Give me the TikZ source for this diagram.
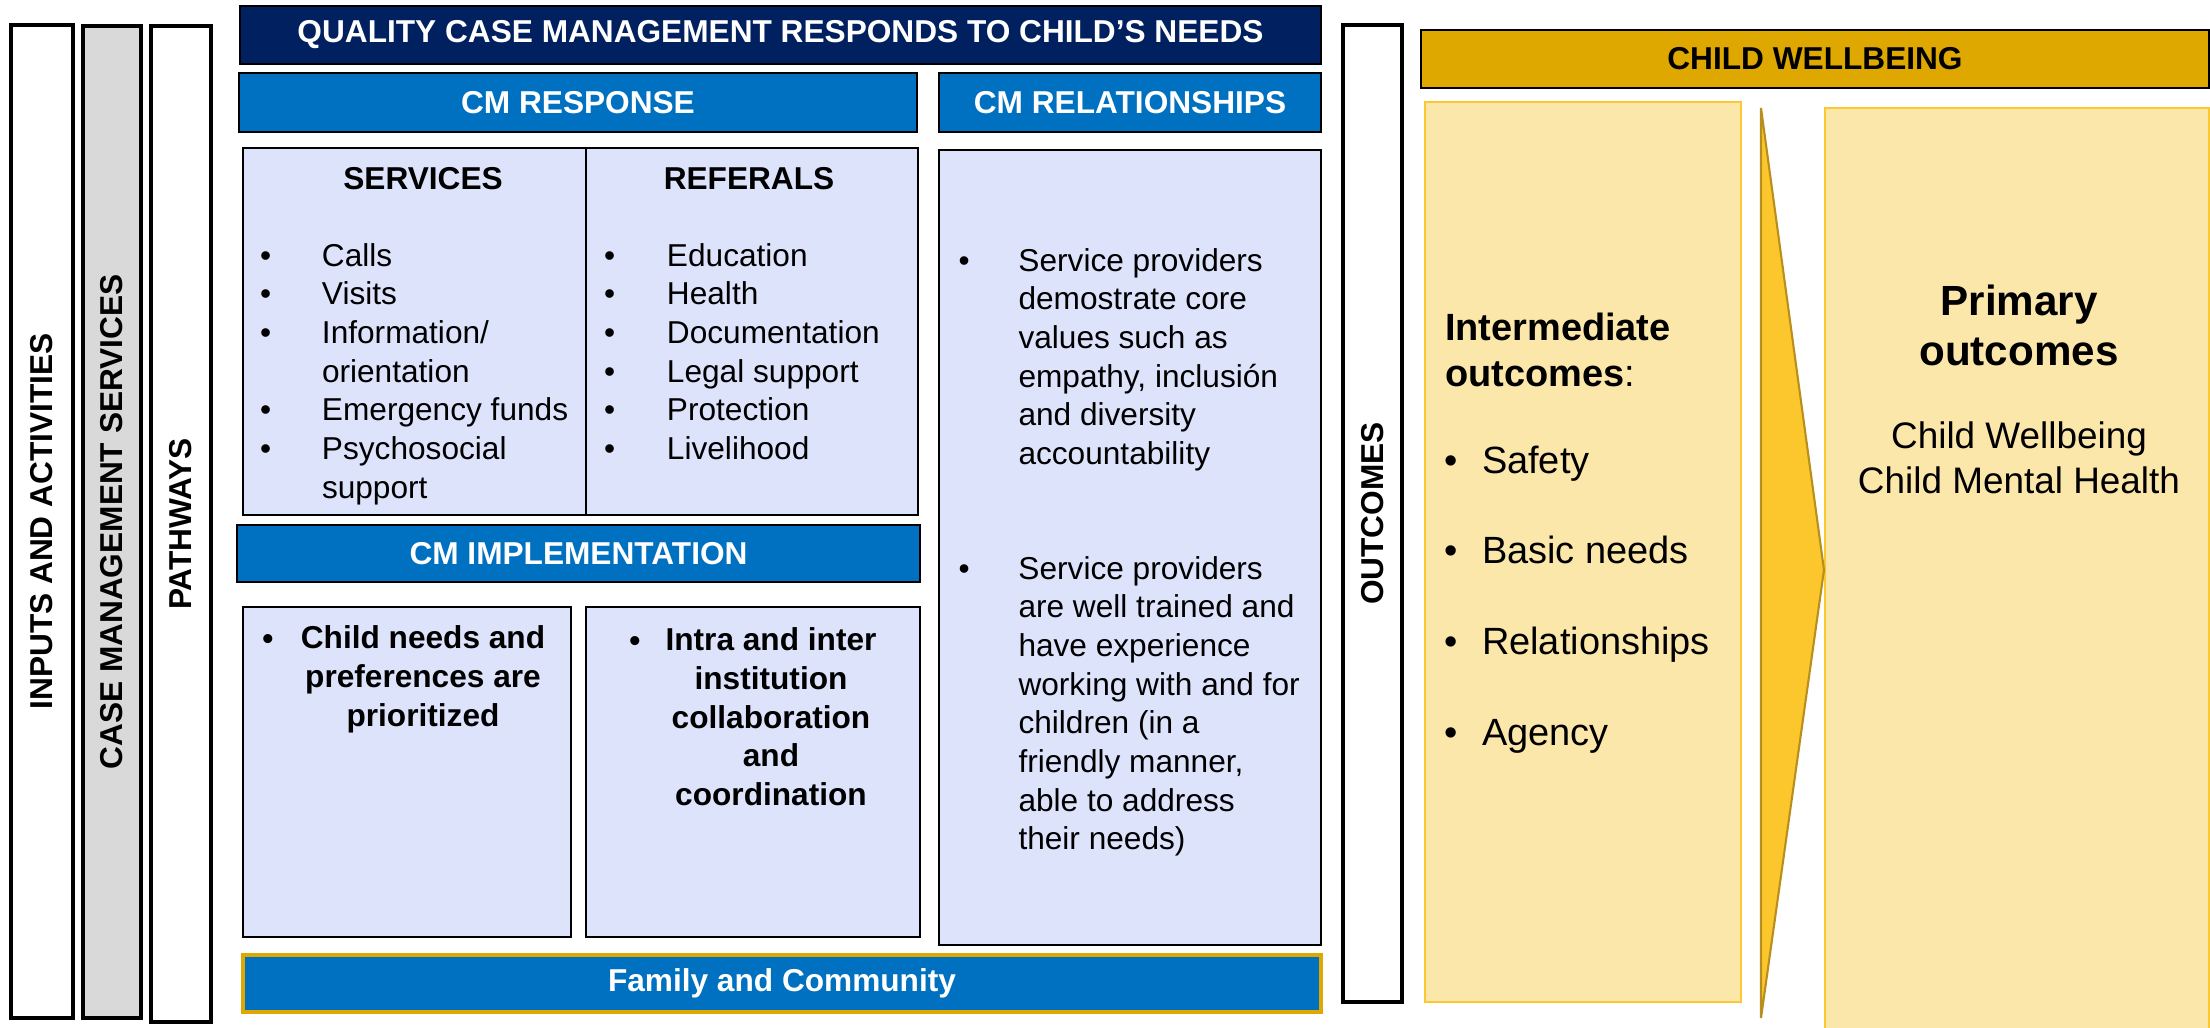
\documentclass[tikz,border=0pt]{standalone}
\usepackage{fontspec}
\setmainfont{Liberation Sans}

\definecolor{navy}{RGB}{0,32,96}
\definecolor{cmblue}{RGB}{0,112,192}
\definecolor{lavender}{RGB}{222,227,252}
\definecolor{lightgray}{RGB}{217,217,217}
\definecolor{wellgold}{RGB}{222,168,0}
\definecolor{paleyellow}{RGB}{252,231,170}
\definecolor{edgeyellow}{RGB}{252,200,50}
\definecolor{arrowyellow}{RGB}{252,198,45}
\definecolor{arrowedge}{RGB}{184,143,28}

\newcommand{\bodysize}{\fontsize{9}{11}\selectfont}
\newcommand{\bul}[1]{\makebox[#1][l]{\textbullet}}

\begin{document}
\begin{tikzpicture}[every node/.style={inner sep=0pt, outer sep=0pt},
  sidebar/.style={draw=black, line width=1.4pt, rotate=90, font=\bodysize\bfseries},
  header/.style={draw=black, line width=0.7pt, fill=cmblue, text=white, font=\bodysize\bfseries},
  panel/.style={draw=black, line width=0.8pt, fill=lavender},
  goldpanel/.style={draw=edgeyellow, line width=0.6pt, fill=paleyellow}]
\useasboundingbox (0,0) rectangle (22.10,10.28);

% left columns
\node[sidebar, minimum width=9.93cm, minimum height=0.62cm] (inputs) at (0.42,5.065) {INPUTS AND ACTIVITIES};
\node[sidebar, fill=lightgray, minimum width=9.92cm, minimum height=0.58cm] (cmservices) at (1.12,5.06) {CASE MANAGEMENT SERVICES};
\node[sidebar, minimum width=9.96cm, minimum height=0.60cm] (pathways) at (1.81,5.04) {PATHWAYS};

% case management block
\node[header, fill=navy, minimum width=10.81cm, minimum height=0.58cm] (title) at (7.805,9.93) {QUALITY CASE MANAGEMENT RESPONDS TO CHILD’S NEEDS};
\node[header, minimum width=6.78cm, minimum height=0.59cm] (cmresp) at (5.78,9.255) {CM RESPONSE};
\node[header, minimum width=3.82cm, minimum height=0.59cm] (cmrel) at (11.30,9.255) {CM RELATIONSHIPS};
\node[panel, minimum width=3.43cm, minimum height=3.67cm] (services) at (4.145,6.965) {};
\node[panel, minimum width=3.32cm, minimum height=3.67cm] (referals) at (7.52,6.965) {};
\node[header, minimum width=6.83cm, minimum height=0.57cm] (cmimpl) at (5.785,4.745) {CM IMPLEMENTATION};
\node[panel, minimum width=3.28cm, minimum height=3.30cm] (childbox) at (4.07,2.56) {};
\node[panel, minimum width=3.34cm, minimum height=3.30cm] (intrabox) at (7.53,2.56) {};
\node[panel, minimum width=3.82cm, minimum height=7.95cm] (relbox) at (11.30,4.805) {};
\node[header, draw=wellgold, line width=1pt, minimum width=10.78cm, minimum height=0.57cm] (family) at (7.82,0.445) {Family and Community};

\node[font=\bodysize\bfseries] (svchead) at (4.23,8.49) {SERVICES};
\node[font=\bodysize\bfseries] (refhead) at (7.49,8.49) {REFERALS};
\node[font=\bodysize, align=left, anchor=north west] (svclist) at (2.60,7.846)
  {\bul{0.62cm}Calls\\ \bul{0.62cm}Visits\\ \bul{0.62cm}Information/\\ \hspace*{0.62cm}orientation\\
   \bul{0.62cm}Emergency funds\\ \bul{0.62cm}Psychosocial\\ \hspace*{0.62cm}support};
\node[font=\bodysize, align=left, anchor=north west] (reflist) at (6.04,7.846)
  {\bul{0.63cm}Education\\ \bul{0.63cm}Health\\ \bul{0.63cm}Documentation\\ \bul{0.63cm}Legal support\\
   \bul{0.63cm}Protection\\ \bul{0.63cm}Livelihood};

\node[font=\bodysize\bfseries, anchor=base] (childbul) at (2.68,3.786) {\textbullet};
\node[font=\bodysize\bfseries, align=center, anchor=north] (childtxt) at (4.23,4.02)
  {Child needs and\\ preferences are\\ prioritized};
\node[font=\bodysize\bfseries, anchor=base] (intrabul) at (6.35,3.766) {\textbullet};
\node[font=\bodysize\bfseries, align=center, anchor=north] (intratxt) at (7.71,4.00)
  {Intra and inter\\ institution\\ collaboration\\ and\\ coordination};

\node[font=\bodysize, align=left, anchor=north west] (reltop) at (9.585,7.796)
  {\bul{0.60cm}Service providers\\ \hspace*{0.60cm}demostrate core\\ \hspace*{0.60cm}values such as\\
   \hspace*{0.60cm}empathy, inclusión\\ \hspace*{0.60cm}and diversity\\ \hspace*{0.60cm}accountability};
\node[font=\bodysize, align=left, anchor=north west] (relbot) at (9.585,4.716)
  {\bul{0.60cm}Service providers\\ \hspace*{0.60cm}are well trained and\\ \hspace*{0.60cm}have experience\\
   \hspace*{0.60cm}working with and for\\ \hspace*{0.60cm}children (in a\\ \hspace*{0.60cm}friendly manner,\\
   \hspace*{0.60cm}able to address\\ \hspace*{0.60cm}their needs)};

% outcomes block
\node[sidebar, minimum width=9.77cm, minimum height=0.59cm] (outcomes) at (13.725,5.145) {OUTCOMES};
\node[draw=black, line width=0.8pt, fill=wellgold, font=\bodysize\bfseries, minimum width=7.88cm, minimum height=0.58cm] (wellbeing) at (18.15,9.69) {CHILD WELLBEING};
\node[goldpanel, minimum width=3.16cm, minimum height=9.00cm] (interbox) at (15.83,4.76) {};
\node[goldpanel, minimum width=3.84cm, minimum height=9.50cm] (primbox) at (20.17,4.45) {};
\filldraw[fill=arrowyellow, draw=arrowedge, line width=0.6pt] (17.61,9.20) -- (18.24,4.58) -- (17.61,0.10) -- cycle;

\node[font=\fontsize{10.8}{13}\selectfont, align=left, anchor=north west] (interhead) at (14.45,7.147)
  {\textbf{Intermediate}\\ \textbf{outcomes}:};
\node[font=\fontsize{10.8}{25.8}\selectfont, align=left, anchor=north west] (interlist) at (14.44,5.824)
  {\bul{0.38cm}Safety\\ \bul{0.38cm}Basic needs\\ \bul{0.38cm}Relationships\\ \bul{0.38cm}Agency};
\node[font=\fontsize{12}{14.2}\selectfont\bfseries, align=center, anchor=north] (primhead) at (20.19,7.43)
  {Primary\\ outcomes};
\node[font=\fontsize{10.5}{12.8}\selectfont, align=center, anchor=north] (primlist) at (20.19,6.06)
  {Child Wellbeing\\ Child Mental Health};
\end{tikzpicture}
\end{document}
